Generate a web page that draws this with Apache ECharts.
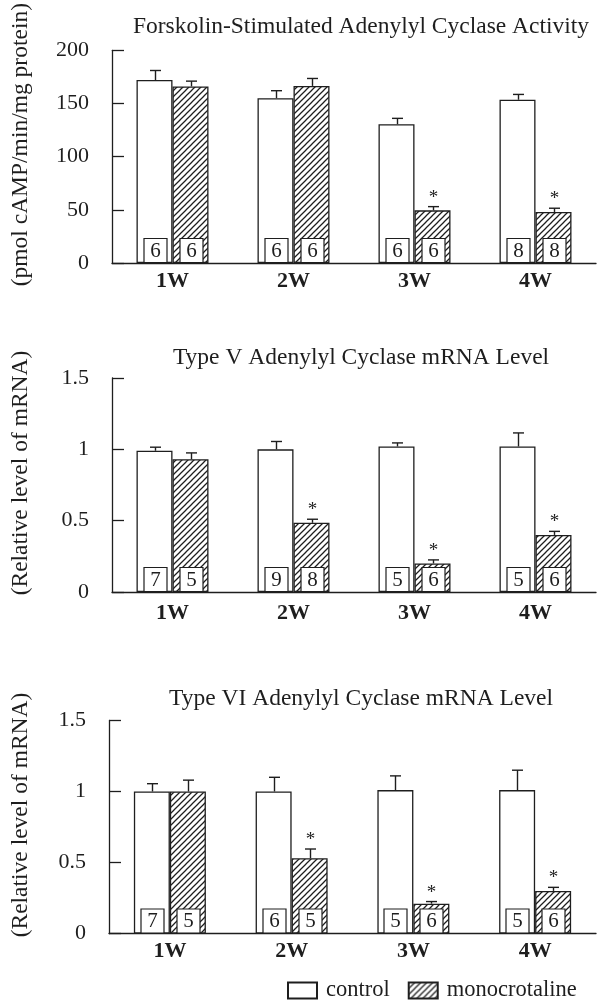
<!DOCTYPE html>
<html>
<head>
<meta charset="utf-8">
<script src="https://cdn.jsdelivr.net/npm/echarts@6/dist/echarts.min.js"></script>
<style>
html,body{margin:0;padding:0;background:#fff;}
#chart{width:600px;height:1000px;}
</style>
</head>
<body>
<div id="chart"></div>
<script>
// ---- data ----
const categories = ['1W', '2W', '3W', '4W'];
const seriesNames = ['control', 'monocrotaline'];
const panelTitles = [
  'Forskolin-Stimulated Adenylyl Cyclase Activity',
  'Type V Adenylyl Cyclase mRNA Level',
  'Type VI Adenylyl Cyclase mRNA Level'
];
const axisNames = ['(pmol cAMP/min/mg protein)', '(Relative level of mRNA)', '(Relative level of mRNA)'];

// Panel 1: forskolin-stimulated activity
const p1Control = [172, 155, 130.5, 153.5];
const p1ControlErr = [9, 7, 5.5, 5];
const p1Mono = [166, 166.5, 49.5, 48];
const p1MonoErr = [5, 7, 3.5, 3.5];
const p1ControlN = [6, 6, 6, 8];
const p1MonoN = [6, 6, 6, 8];
const p1MonoSig = [0, 0, 1, 1];
const p1Ticks = [0, 50, 100, 150, 200];

// Panel 2: type V mRNA
const p2Control = [0.99, 1.0, 1.02, 1.02];
const p2ControlErr = [0.025, 0.055, 0.025, 0.095];
const p2Mono = [0.93, 0.485, 0.2, 0.4];
const p2MonoErr = [0.045, 0.025, 0.025, 0.025];
const p2ControlN = [7, 9, 5, 5];
const p2MonoN = [5, 8, 6, 6];
const p2MonoSig = [0, 1, 1, 1];
const p2Ticks = [0, 0.5, 1, 1.5];

// Panel 3: type VI mRNA
const p3Control = [1.0, 1.0, 1.01, 1.01];
const p3ControlErr = [0.055, 0.1, 0.1, 0.14];
const p3Mono = [1.0, 0.53, 0.21, 0.3];
const p3MonoErr = [0.08, 0.065, 0.015, 0.025];
const p3ControlN = [7, 6, 5, 5];
const p3MonoN = [5, 5, 6, 6];
const p3MonoSig = [0, 1, 1, 1];
const p3Ticks = [0, 0.5, 1, 1.5];

// ---- styling ----
const INK = '#1e1e1e';
const SERIF = '"Liberation Serif", "DejaVu Serif", serif';
const BAR_W = 36;

function hatchCanvas() {
  const s = 6;
  const c = document.createElement('canvas');
  c.width = s; c.height = s;
  const g = c.getContext('2d');
  g.fillStyle = '#fff';
  g.fillRect(0, 0, s, s);
  g.strokeStyle = INK;
  g.lineWidth = 1.25;
  g.beginPath();
  g.moveTo(-1, s + 1); g.lineTo(s + 1, -1);
  g.moveTo(-1, 1); g.lineTo(1, -1);
  g.moveTo(s - 1, s + 1); g.lineTo(s + 1, s - 1);
  g.stroke();
  return c;
}
const hatch = { image: hatchCanvas(), repeat: 'repeat' };

const panels = [
  { c: p1Control, ce: p1ControlErr, m: p1Mono, me: p1MonoErr, cn: p1ControlN, mn: p1MonoN, sig: p1MonoSig, ticks: p1Ticks,
    grid: { left: 112, top: 49, width: 484, height: 214 }, titleTop: 10, labelMargin: 7, nameGap: 79 },
  { c: p2Control, ce: p2ControlErr, m: p2Mono, me: p2MonoErr, cn: p2ControlN, mn: p2MonoN, sig: p2MonoSig, ticks: p2Ticks,
    grid: { left: 112, top: 378, width: 484, height: 214 }, titleTop: 341, labelMargin: 10, nameGap: 79 },
  { c: p3Control, ce: p3ControlErr, m: p3Mono, me: p3MonoErr, cn: p3ControlN, mn: p3MonoN, sig: p3MonoSig, ticks: p3Ticks,
    grid: { left: 109, top: 720.5, width: 487, height: 213 }, titleTop: 682, labelMargin: 7, nameGap: 76 }
];

function makeRender(offset) {
  return function (params, api) {
    const cat = api.value(0), v = api.value(1), e = api.value(2), n = api.value(3), sig = api.value(4);
    const base = api.coord([cat, 0]);
    const top = api.coord([cat, v]);
    const et = api.coord([cat, v + e]);
    const x = Math.round(base[0] + offset) + 0.5;
    const children = [
      { type: 'line', shape: { x1: x, y1: top[1], x2: x, y2: et[1] }, style: { stroke: INK, lineWidth: 1.4 } },
      { type: 'line', shape: { x1: x - 5.5, y1: et[1], x2: x + 5.5, y2: et[1] }, style: { stroke: INK, lineWidth: 1.4 } },
      { type: 'rect', shape: { x: x - 11.5, y: base[1] - 24.5, width: 23, height: 24 }, style: { fill: '#fff', stroke: INK, lineWidth: 1.2 } },
      { type: 'text', x: x, y: base[1] - 12, style: { text: String(n), font: '21px ' + SERIF, fill: INK, align: 'center', verticalAlign: 'middle' } }
    ];
    if (sig) {
      children.push({ type: 'text', x: x, y: et[1] - 9, style: { text: '*', font: '19px ' + SERIF, fill: INK, align: 'center', verticalAlign: 'middle' } });
    }
    return { type: 'group', children: children };
  };
}

const option = {
  backgroundColor: '#fff',
  animation: false,
  title: panels.map((p, i) => ({
    text: panelTitles[i], left: 356, top: p.titleTop, textAlign: 'center',
    textStyle: { fontFamily: SERIF, fontSize: 23.5, fontWeight: 'normal', color: INK }
  })),
  legend: {
    data: seriesNames, left: 287, top: 979, padding: 0, itemWidth: 29, itemHeight: 16, itemGap: 18, icon: 'rect',
    textStyle: { fontFamily: SERIF, fontSize: 22.5, color: INK, padding: [0, 0, 0, 4] },
    selectedMode: false
  },
  grid: panels.map(p => p.grid),
  xAxis: panels.map((p, i) => ({
    type: 'category', gridIndex: i, data: categories,
    axisLine: { show: true, lineStyle: { color: INK, width: 1.3 } },
    axisTick: { show: false },
    axisLabel: { fontFamily: SERIF, fontSize: 22, fontWeight: 'bold', color: INK, margin: p.labelMargin }
  })),
  yAxis: panels.map((p, i) => ({
    type: 'value', gridIndex: i,
    min: p.ticks[0], max: p.ticks[p.ticks.length - 1], interval: p.ticks[1] - p.ticks[0],
    name: axisNames[i], nameLocation: 'middle', nameGap: p.nameGap, nameRotate: 90,
    nameTextStyle: { fontFamily: SERIF, fontSize: 23.5, color: INK, padding: [0, 0, 0, 24] },
    axisLine: { show: true, lineStyle: { color: INK, width: 1.3 } },
    axisTick: { show: true, inside: true, length: 12, lineStyle: { color: INK, width: 1.3 } },
    splitLine: { show: false },
    axisLabel: { fontFamily: SERIF, fontSize: 22, color: INK, margin: 23 }
  })),
  series: []
};

panels.forEach((p, i) => {
  option.series.push({
    name: 'control', type: 'bar', xAxisIndex: i, yAxisIndex: i, data: p.c,
    barWidth: BAR_W, barGap: '0%',
    itemStyle: { color: '#fff', borderColor: INK, borderWidth: 1.3 }
  });
  option.series.push({
    name: 'monocrotaline', type: 'bar', xAxisIndex: i, yAxisIndex: i, data: p.m,
    barWidth: BAR_W, barGap: '0%',
    itemStyle: { color: hatch, borderColor: INK, borderWidth: 1.3 }
  });
  option.series.push({
    type: 'custom', xAxisIndex: i, yAxisIndex: i, z: 5,
    renderItem: makeRender(-BAR_W / 2),
    encode: { x: 0, y: 1 },
    data: categories.map((c, k) => [k, p.c[k], p.ce[k], p.cn[k], 0])
  });
  option.series.push({
    type: 'custom', xAxisIndex: i, yAxisIndex: i, z: 5,
    renderItem: makeRender(BAR_W / 2),
    encode: { x: 0, y: 1 },
    data: categories.map((c, k) => [k, p.m[k], p.me[k], p.mn[k], p.sig[k]])
  });
});

const chart = echarts.init(document.getElementById('chart'), null, { renderer: 'canvas' });
chart.setOption(option);
</script>
</body>
</html>
